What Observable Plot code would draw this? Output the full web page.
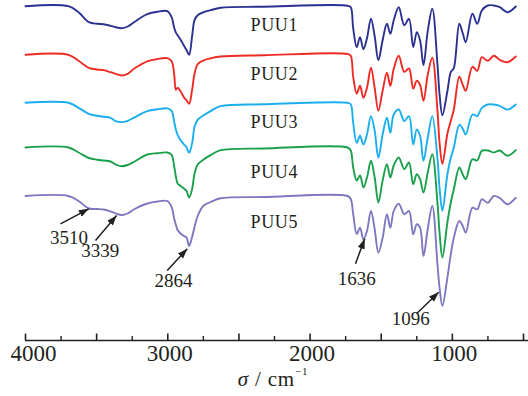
<!DOCTYPE html>
<html><head><meta charset="utf-8">
<script src="https://cdn.jsdelivr.net/npm/d3@7"></script>
<script src="https://cdn.jsdelivr.net/npm/@observablehq/plot@0.6"></script>
<style>
body{margin:0;background:#fff;}
#chart{width:528px;height:396px;}
</style></head><body><div id="chart"></div>
<script>
// wavenumber knots (cm^-1), shared by all spectra
const wavenumbers = [4000,3698,3627,3555,3496,3451,3402,3367,3325,3282,3233,3144,3072,3004,2973,2956,2943,2931,2910,2887,2868,2850,2829,2812,2790,2748,2699,2629,2326,1736,1714,1697,1672,1649,1625,1600,1572,1546,1520,1490,1460,1436,1412,1377,1338,1305,1275,1250,1227,1203,1173,1141,1105,1090,1070,1035,1011,990,951,927,906,859,825,793,751,709,667,613,554];

const seriesNames = ["PUU1","PUU2","PUU3","PUU4","PUU5"];
const seriesColors = ["#2b3190","#ee2a24","#1aaeee","#1a9f4b","#7d78c0"];
// vertical offset of each spectrum (stacked, arbitrary transmittance units)
const seriesOffsets = [334.3, 285.7, 237.7, 193, 144.5];

// absorption depth below each spectrum's baseline
const puu1 = [0,0,6,16,17.6,18,19.6,21,22,20.3,15.5,8,5.5,5,11,21,26.5,29,33.5,39.3,44,48.6,30,14,9,6,4,1.6,0.5,-0.5,1,22,41,31,43,32,12.6,30,54,34,17.6,27.6,14,1,19,12.6,41,26,34,59,25,2.6,57.6,88,109,85,66,62,17.6,27,36,7.6,17.6,4.3,-0.7,-0.7,1,6,0.3];
const puu2 = [0,0,6,13,14.7,15.3,17.4,19,20.7,19,13.5,6.5,4.2,3.4,6.5,18,35,33,36.5,42.4,45.5,49,35,19,9.5,5.5,3.5,1.7,0.5,-0.8,1,22,39,31,43,33,13,33,56,36,18,31,14,1,17,13.7,34,26,30,46,20,3,55,88,109,79,66,55,22,30,36,12,16,2.4,6,1,5,7.4,1.7];
const puu3 = [0,0,5,11,13,14,15,18.3,19.3,18,14.5,8.3,6.5,5.6,8,18,27,32,37.5,41.5,44.5,50,40.5,24,17,12.5,8.3,3.3,1.5,0,1.5,20,40,33,41.7,31.7,13.3,28,55,31.7,15,30,11.7,6.7,18.3,13.3,41.7,26.7,33,58,35,13.3,55,85,108,71.7,55,45,22,26,31.7,11.7,13.3,5,1.7,1.7,3,6.7,1.7];
const puu4 = [0,0,5,10.5,12.2,13,14,17,18.7,17.5,14,7,5.7,5,7.5,18,29,36,38.4,41,43.5,50,41.5,26,17,12,7.7,2.7,1,0,3,20,33,28,40,30,13.3,30,55,33,16.7,30,18,10,21.7,15,36.7,26.7,31.7,45,25,6.7,55,85,110,75,55,42,20,27,31.7,11.7,13,3.3,3,5,3,8.3,2.7];
const puu5 = [0,0,5,12.5,13,13.5,15.5,17.3,19,17.5,13,7.5,5.5,5,11,22,29,34,37.5,40,41.5,50,41,31,20,9.5,6,2.3,1,0,3,18,38,31.7,43.3,35,15,33,56.7,41.7,18.3,31.7,15,7.7,18.3,15,38.3,28.3,31.7,60,33,10,68,91.7,110,81.7,58.3,42,25,30,36.7,11.7,13.3,3.3,6.7,0,2,8.3,1.7];
const depths = [puu1, puu2, puu3, puu4, puu5];

// series labels
const labelWavenumber = 2418;
const labelValues = [315, 266, 218, 168, 118];

// peak annotations (PUU5)
const peakLabels = ["3510","3339","2864","1636","1096"];
const peakTipX = [3555, 3360, 2863, 1616, 1096];
const peakTipY = [131.7, 125, 91.7, 101.7, 48.3];
const peakTailX = [3754, 3508, 3004, 1681, 1252];
const peakTailY = [116.7, 100, 70, 76.7, 26.7];
const peakTextX = [3695, 3475, 2959, 1672, 1293];
const peakTextY = [103, 90, 59.5, 62, 22];

// axis ticks
const majorTicks = [4000,3500,3000,2500,2000,1500,1000,500];
const minorTicks = [3750,3250,2750,2250,1750,1250,750];
const tickLabels = [4000,3000,2000,1000];

const rows = [];
seriesNames.forEach((s, i) => {
  wavenumbers.forEach((w, j) => rows.push({series: s, w, t: seriesOffsets[i] - depths[i][j]}));
});
const labels = seriesNames.map((s, i) => ({s, w: labelWavenumber, t: labelValues[i]}));
const peaks = peakLabels.map((p, i) => ({p, x1: peakTailX[i], y1: peakTailY[i], x2: peakTipX[i], y2: peakTipY[i], tx: peakTextX[i], ty: peakTextY[i]}));

function filledArrow(color, context) {
  const m = d3.create("svg:marker")
    .attr("viewBox", "-10 -4 10 8")
    .attr("markerWidth", 10).attr("markerHeight", 8)
    .attr("markerUnits", "userSpaceOnUse")
    .attr("refX", 0).attr("refY", 0)
    .attr("orient", "auto");
  m.append("path").attr("d", "M-10,-3.6L0,0L-10,3.6Z").attr("fill", color).attr("stroke", "none");
  return m.node();
}

const ink = "#231f20";
const font = "'Liberation Serif', 'Times New Roman', serif";

const chart = Plot.plot({
  width: 528, height: 396,
  marginTop: 0, marginBottom: 56, marginLeft: 25, marginRight: 5,
  x: {domain: [4000, 500], axis: null},
  y: {domain: [0, 340], axis: null},
  color: {domain: seriesNames, range: seriesColors},
  style: {fontFamily: font, background: "white", overflow: "visible"},
  marks: [
    Plot.ruleY([0], {x1: 4000, x2: 460, stroke: ink, strokeWidth: 1.6}),
    Plot.ruleX(majorTicks, {x: d => d, y1: 0, y2: 6.5, stroke: ink, strokeWidth: 1.6}),
    Plot.ruleX(minorTicks, {x: d => d, y1: 0, y2: 4, stroke: ink, strokeWidth: 1.4}),
    Plot.text(tickLabels.slice(0, 1), {x: d => d, y: 0, dy: 13, dx: 8, text: d => String(d), fontSize: 23, fill: ink, lineAnchor: "middle"}),
    Plot.text(tickLabels.slice(1), {x: d => d, y: 0, dy: 13, dx: 2, text: d => String(d), fontSize: 23, fill: ink, lineAnchor: "middle"}),
    Plot.line(rows, {x: "w", y: "t", z: "series", stroke: "series", strokeWidth: 1.9, curve: "catmull-rom"}),
    Plot.text(labels, {x: "w", y: "t", text: "s", textAnchor: "start", fontSize: 18, fill: ink}),
    Plot.link(peaks, {x1: "x1", y1: "y1", x2: "x2", y2: "y2", stroke: ink, strokeWidth: 1.5, markerEnd: filledArrow}),
    Plot.text(peaks, {x: "tx", y: "ty", text: "p", fontSize: 19, fill: ink})
  ]
});
document.getElementById("chart").appendChild(chart);

// slightly wider letter spacing for the series labels (as in the original)
d3.select(chart).selectAll("text").filter(function(){ return this.textContent.startsWith("PUU"); })
  .attr("letter-spacing", "0.6px");

// axis title: σ / cm^-1
const svg = d3.select(chart);
const title = svg.append("text")
  .attr("x", 273).attr("y", 386)
  .attr("text-anchor", "middle")
  .attr("font-family", font).attr("font-size", 21).attr("fill", ink)
  .attr("letter-spacing", "0.8px");
title.append("tspan").attr("font-style", "italic").text("σ");
title.append("tspan").text(" / cm");
title.append("tspan").attr("font-size", 11).attr("dy", -11).text("−1");
</script>
</body></html>
